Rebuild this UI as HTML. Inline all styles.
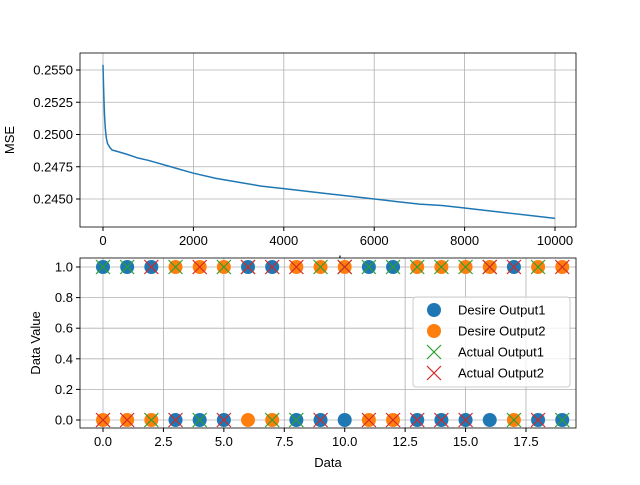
<!DOCTYPE html>
<html><head><meta charset="utf-8"><style>body{margin:0;background:#fff}svg text{font-family:"Liberation Sans",sans-serif;font-size:13px}</style></head>
<body>
<svg id="c" width="640" height="480" xmlns="http://www.w3.org/2000/svg"></svg>
<script>
const epochs=[0,10,20,35,50,75,100,150,200,300,500,750,1000,1500,2000,2500,3000,3500,4000,4500,5000,5500,6000,6500,7000,7500,8000,8500,9000,9500,10000];
const mse=[0.2554,0.2540,0.2528,0.2514,0.2505,0.2497,0.2493,0.2490,0.2488,0.2487,0.2485,0.2482,0.2480,0.2475,0.2470,0.2466,0.2463,0.2460,0.2458,0.2456,0.2454,0.2452,0.2450,0.2448,0.2446,0.2445,0.2443,0.2441,0.2439,0.2437,0.2435];
const topXTicks=[0,2000,4000,6000,8000,10000];
const topYTicks=[0.2450,0.2475,0.2500,0.2525,0.2550];
const desire1=[1,1,1,0,0,0,1,1,0,0,0,1,1,0,0,0,0,1,0,0];
const desire2=[0,0,0,1,1,1,0,0,1,1,1,0,0,1,1,1,1,0,1,1];
const actual1=[1,1,0,1,0,1,1,0,0,1,1,1,1,1,1,1,1,0,1,0];
const actual2=[0,0,1,0,1,0,1,1,1,0,1,0,0,0,0,0,1,1,0,1];
const botXTicks=[0,2.5,5,7.5,10,12.5,15,17.5];
const botYTicks=[0,0.2,0.4,0.6,0.8,1.0];
const svg=document.getElementById('c');const NS='http://www.w3.org/2000/svg';
function el(t,a,p){const e=document.createElementNS(NS,t);for(const k in a)e.setAttribute(k,a[k]);(p||svg).appendChild(e);return e;}
function txt(s,a,p){const e=el('text',a,p);e.textContent=s;return e;}
const T={x0:80,x1:576,y0:53,y1:227};
const tx=v=>103+v*(555-103)/10000;
const tyf=v=>199-(v-0.2450)/0.0025*32.25;
const gTop=el('g',{});
topXTicks.forEach(v=>{const x=tx(v);el('line',{x1:x,x2:x,y1:T.y0,y2:T.y1,stroke:'#b0b0b0','stroke-width':0.8},gTop);el('line',{x1:x,x2:x,y1:T.y1,y2:T.y1+4,stroke:'#000'},gTop);const t=txt(String(v),{x:x,y:T.y1+18,'text-anchor':'middle'},gTop);});
topYTicks.forEach(v=>{const y=tyf(v);el('line',{x1:T.x0,x2:T.x1,y1:y,y2:y,stroke:'#b0b0b0','stroke-width':0.8},gTop);el('line',{x1:T.x0-4,x2:T.x0,y1:y,y2:y,stroke:'#000'},gTop);const t=txt(v.toFixed(4),{x:T.x0-7,y:y+4.5,'text-anchor':'end'},gTop);});
const line=el('polyline',{points:epochs.map((e,i)=>tx(e)+','+tyf(mse[i])).join(' '),fill:'none',stroke:'#1f77b4','stroke-width':1.5,'stroke-linejoin':'round'},gTop);

el('rect',{x:T.x0,y:T.y0,width:T.x1-T.x0,height:T.y1-T.y0,fill:'none',stroke:'#000','stroke-width':0.8},gTop);
const yl=txt('MSE',{x:14,y:140,'text-anchor':'middle',transform:'rotate(-90 14 140)'},gTop);
const xl=txt('epoch',{x:328,y:265,'text-anchor':'middle'},gTop);
const B={x0:80,x1:576,y0:258,y1:428};
const bx=v=>103+v*(526-103)/17.5, by=v=>420-v*153;
const gB=el('g',{});
el('rect',{x:B.x0,y:B.y0,width:B.x1-B.x0,height:B.y1-B.y0,fill:'#fff'},gB);
botXTicks.forEach(v=>{const x=bx(v);el('line',{x1:x,x2:x,y1:B.y0,y2:B.y1,stroke:'#b0b0b0','stroke-width':0.8},gB);el('line',{x1:x,x2:x,y1:B.y1,y2:B.y1+4,stroke:'#000'},gB);const t=txt(v.toFixed(1),{x:x,y:B.y1+18,'text-anchor':'middle'},gB);});
botYTicks.forEach(v=>{const y=by(v);el('line',{x1:B.x0,x2:B.x1,y1:y,y2:y,stroke:'#b0b0b0','stroke-width':0.8},gB);el('line',{x1:B.x0-4,x2:B.x0,y1:y,y2:y,stroke:'#000'},gB);const t=txt(v.toFixed(1),{x:B.x0-7,y:y+4.5,'text-anchor':'end'},gB);});
function circ(x,y,c,p){return el('circle',{cx:x,cy:y,r:7,fill:c},p);}
function cross(x,y,c,p){const g=el('g',{stroke:c,'stroke-width':1.2},p);el('line',{x1:x-7,y1:y-7,x2:x+7,y2:y+7},g);el('line',{x1:x-7,y1:y+7,x2:x+7,y2:y-7},g);return g;}
[[desire1,'#1f77b4',circ,'desire-output1-point'],[desire2,'#ff7f0e',circ,'desire-output2-point'],[actual1,'#2ca02c',cross,'actual-output1-point'],[actual2,'#d62728',cross,'actual-output2-point']].forEach(([arr,c,f,n])=>{arr.forEach((v,i)=>{const m=f(bx(i),by(v),c,gB);});});
el('rect',{x:B.x0,y:B.y0,width:B.x1-B.x0,height:B.y1-B.y0,fill:'none',stroke:'#000','stroke-width':0.8},gB);
const yl2=txt('Data Value',{x:40,y:343,'text-anchor':'middle',transform:'rotate(-90 40 343)'},gB);
const xl2=txt('Data',{x:328,y:467,'text-anchor':'middle'},gB);
const gL=el('g',{});
el('rect',{x:413,y:297,width:157,height:90,rx:3,fill:'#fff','fill-opacity':0.8,stroke:'#ccc'},gL);
[['Desire Output1','#1f77b4',circ],['Desire Output2','#ff7f0e',circ],['Actual Output1','#2ca02c',cross],['Actual Output2','#d62728',cross]].forEach(([l,c,f],i)=>{const y=310+i*21;const g=el('g',{},gL);f(434,y,c,g);txt(l,{x:458,y:y+4.5},g);});
</script>
</body></html>
